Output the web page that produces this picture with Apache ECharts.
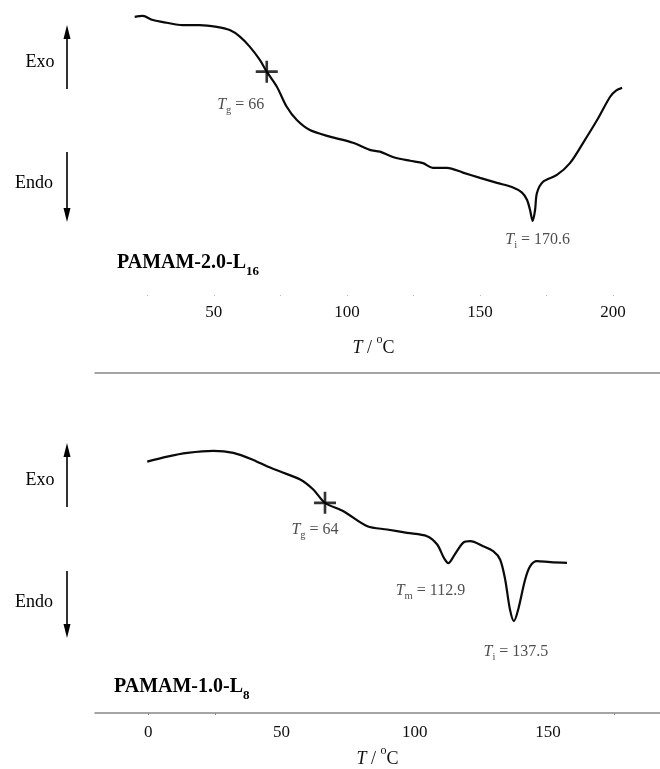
<!DOCTYPE html>
<html><head><meta charset="utf-8">
<script src="https://cdn.jsdelivr.net/npm/echarts@6/dist/echarts.min.js"></script>
<style>html,body{margin:0;padding:0;background:#fff}#c{width:660px;height:769px}</style>
</head><body><div id="c"></div>
<script>
// ---- data (temperature in °C, DSC heat-flow signal in arbitrary units) ----
const topTemp = [20.3,23.3,27.1,32.3,38.3,44.7,51.1,56.0,59.8,63.5,67.3,69.9,73.7,77.4,81.2,86.1,93.6,102.3,108.6,112.4,117.3,123.7,128.6,132.3,137.6,143.6,150.0,156.4,162.0,165.8,167.7,168.8,169.8,170.7,171.4,173.7,178.9,183.8,188.7,194.0,198.9,201.1,203.4];
const topSignal = [94.3,94.6,93.2,92.3,91.5,91.5,90.9,89.8,87.6,84.2,79.7,75.7,70.6,63.8,59.3,55.9,53.7,51.6,49.2,48.6,46.8,45.5,44.7,43.1,43.1,41.5,39.7,38.0,36.6,34.7,32.2,28.8,25.1,28.8,34.6,38.4,40.7,44.7,51.5,59.3,67.2,69.3,70.2];
const botTemp = [-0.4,7.1,14.7,24.4,31.9,39.4,44.7,49.5,57.0,61.9,66.3,73.2,82.2,89.6,97.1,104.6,108.4,110.9,112.6,114.6,118.1,120.8,125.6,129.4,132.0,133.9,135.7,137.2,138.8,141.4,143.3,145.8,150.8,157.1];
const botSignal = [75.5,77.0,78.1,78.7,78.1,76.0,74.0,72.5,70.1,67.1,63.1,60.6,56.1,55.1,54.1,53.1,50.6,46.6,45.0,47.1,51.1,51.6,50.1,48.6,46.1,40.1,31.1,27.6,31.1,40.1,44.1,45.6,45.3,45.1];
const topTickLabels = [50,100,150,200];
const botTickLabels = [0,50,100,150];
const topTickMarks = [25,50,75,100,125,150,175,200];
const botTickMarks = [0,25,175];
// transitions: [T, signal, subscript, value text]
const topTg = [69.9,75.7,'g','66'];
const topTi = [169.8,25.1,'i','170.6'];
const botTg = [66.3,63.1,'g','64'];
const botTm = [112.6,45.0,'m','112.9'];
const botTi = [137.2,27.6,'i','137.5'];
const sampleTop = ['PAMAM-2.0-L','16'];
const sampleBot = ['PAMAM-1.0-L','8'];

// ---- chart ----
const SERIF = '"Liberation Serif","Times New Roman",serif';
const pair = (xs, ys) => xs.map((x, i) => [x, ys[i]]);
const noteRich = {
  t: {fontFamily: SERIF, fontStyle: 'italic', fontSize: 16, color: '#222', lineHeight: 18},
  s: {fontFamily: SERIF, fontSize: 10.5, color: '#222', lineHeight: 12, verticalAlign: 'bottom', padding: [0,0,-2,0]},
  n: {fontFamily: SERIF, fontSize: 16, color: '#222', lineHeight: 18}
};
const noteText = a => '{t|T}{s|' + a[2] + '}{n| = ' + a[3] + '}';
function noteSeries(xi, note, offset) {
  return {
    type: 'scatter', xAxisIndex: xi, yAxisIndex: xi, symbolSize: 1, silent: true,
    itemStyle: {color: 'rgba(0,0,0,0)'},
    label: {show: true, position: 'inside', offset: offset, formatter: noteText(note), rich: noteRich},
    data: [[note[0], note[1]]], z: 5
  };
}
const PLUS = 'path://M8.8,0H11.2V8.8H20V11.2H11.2V20H8.8V11.2H0V8.8H8.8Z';
function crossSeries(xi, note) {
  return {type: 'scatter', xAxisIndex: xi, yAxisIndex: xi, symbol: PLUS, symbolSize: 22, silent: true,
    itemStyle: {color: '#000'}, data: [[note[0], note[1]]], z: 6};
}
const axisNameText = '{i|T}{r| / }{o|o}{r|C}';
const axisNameStyle = {
  rich: {
    i: {fontFamily: SERIF, fontStyle: 'italic', fontSize: 18, color: '#111', lineHeight: 20},
    r: {fontFamily: SERIF, fontSize: 18, color: '#111', lineHeight: 20},
    o: {fontFamily: SERIF, fontSize: 12, color: '#111', lineHeight: 20, verticalAlign: 'top', padding: [-4,0,0,0]}
  }
};
const tickLabel = {fontFamily: SERIF, fontSize: 17, color: '#111'};

const option = {
  animation: false,
  backgroundColor: '#fff',
  grid: [
    {left: 94, right: 7, top: 0, height: 295},
    {left: 95, right: 0, top: 373, height: 341}
  ],
  xAxis: [
    {type: 'value', gridIndex: 0, min: 5, max: 215, splitLine: {show: false},
     axisLine: {show: false},
     axisTick: {show: true, length: 1, lineStyle: {color: '#bbb'}, customValues: topTickMarks},
     axisLabel: Object.assign({margin: 9, customValues: topTickLabels}, tickLabel),
     name: axisNameText, nameLocation: 'middle', nameGap: 43, nameTextStyle: axisNameStyle},
    {type: 'value', gridIndex: 1, min: -20, max: 192, splitLine: {show: false},
     axisLine: {show: true, onZero: false, lineStyle: {color: '#888', width: 1.5}},
     axisTick: {show: true, length: 2, lineStyle: {color: '#888'}, customValues: botTickMarks},
     axisLabel: Object.assign({margin: 11, customValues: botTickLabels}, tickLabel),
     name: axisNameText, nameLocation: 'middle', nameGap: 36, nameTextStyle: axisNameStyle},
    {type: 'value', gridIndex: 1, position: 'top', min: -20, max: 192, splitLine: {show: false},
     axisLine: {show: true, onZero: false, lineStyle: {color: '#888', width: 1.5}},
     axisTick: {show: false}, axisLabel: {show: false}}
  ],
  yAxis: [
    {type: 'value', gridIndex: 0, min: 0, max: 100, show: false},
    {type: 'value', gridIndex: 1, min: 0, max: 102.1, show: false}
  ],
  series: [
    {type: 'line', xAxisIndex: 0, yAxisIndex: 0, data: pair(topTemp, topSignal), showSymbol: false,
     smooth: 0.3, lineStyle: {color: '#0a0a0a', width: 2.2}, silent: true},
    {type: 'line', xAxisIndex: 1, yAxisIndex: 1, data: pair(botTemp, botSignal), showSymbol: false,
     smooth: 0.3, lineStyle: {color: '#0a0a0a', width: 2.2}, silent: true},
    crossSeries(0, topTg), crossSeries(1, botTg),
    noteSeries(0, topTg, [-26, 33]),
    noteSeries(0, topTi, [5, 19]),
    noteSeries(1, botTg, [-10, 27]),
    noteSeries(1, botTm, [-18, 28]),
    noteSeries(1, botTi, [2, 31])
  ],
  graphic: []
};

function arrow(x, y1, y2) { // y1 tail, y2 head
  const dir = y2 < y1 ? 1 : -1;
  return [
    {type: 'line', shape: {x1: x, y1: y1, x2: x, y2: y2 + dir * 10}, style: {stroke: '#000', lineWidth: 1.6}},
    {type: 'polygon', shape: {points: [[x, y2], [x - 3.5, y2 + dir * 14], [x + 3.5, y2 + dir * 14]]}, style: {fill: '#000'}}
  ];
}
function label(x, y, txt) {
  return {type: 'text', x: x, y: y, style: {text: txt, font: '18px ' + SERIF, fill: '#000', align: 'center', verticalAlign: 'middle'}};
}
function sample(x, y, s) {
  return {type: 'text', x: x, y: y, style: {
    text: '{b|' + s[0] + '}{s|' + s[1] + '}', verticalAlign: 'middle',
    rich: {b: {fontFamily: SERIF, fontWeight: 'bold', fontSize: 20, fill: '#000', lineHeight: 22},
           s: {fontFamily: SERIF, fontWeight: 'bold', fontSize: 13, fill: '#000', lineHeight: 14, verticalAlign: 'bottom', padding: [0,0,-4,0]}}
  }};
}
option.graphic = [
  label(40, 62, 'Exo'), label(34, 183, 'Endo'),
  ...arrow(67, 89, 25), ...arrow(67, 152, 222),
  sample(117, 263, sampleTop),
  label(40, 480, 'Exo'), label(34, 602, 'Endo'),
  ...arrow(67, 507, 443), ...arrow(67, 571, 638),
  sample(114, 687, sampleBot)
];

echarts.init(document.getElementById('c')).setOption(option);
</script></body></html>
